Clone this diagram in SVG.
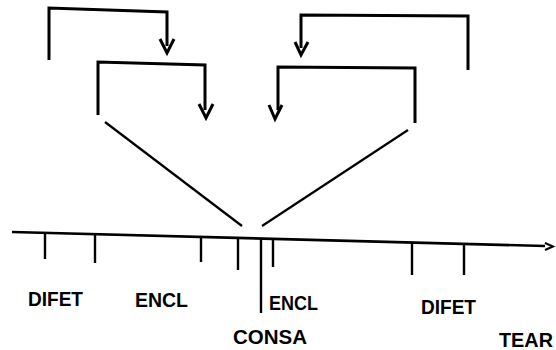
<svg xmlns="http://www.w3.org/2000/svg" width="556" height="350" viewBox="0 0 556 350">
<style>
.br{fill:none;stroke:#000;stroke-width:3;stroke-linecap:butt;stroke-linejoin:miter}
.ah{fill:none;stroke:#000;stroke-width:3;stroke-linejoin:miter}
.dg{fill:none;stroke:#000;stroke-width:2.2}
.ax{fill:none;stroke:#000;stroke-width:2.6}
.tk{fill:none;stroke:#000;stroke-width:2.4}
.lb{font-family:"Liberation Sans",Arial,sans-serif;font-weight:bold;font-size:20px;fill:#000}
</style>
<rect width="556" height="350" fill="#fff"/>
<g id="connectors">
  <g id="bracket-top-left">
    <path class="br" d="M49,60 L49,8 L167,12 L167,46"/>
    <path class="ah" d="M160,39 L167,53 L174,39"/>
  </g>
  <g id="bracket-mid-left">
    <path class="br" d="M98,115 L98,62 L205,65 L205,110"/>
    <path class="ah" d="M199,104 L206,118 L213,104"/>
  </g>
  <g id="bracket-top-right">
    <path class="br" d="M468,70 L468,16 L301,15 L301,48"/>
    <path class="ah" d="M295,42 L301,55 L308,42"/>
  </g>
  <g id="bracket-mid-right">
    <path class="br" d="M415,123 L415,68 L278,67 L278,110"/>
    <path class="ah" d="M269,105 L275,119 L282,105"/>
  </g>
  <path id="diag-left" class="dg" d="M105,122 L242,226"/>
  <path id="diag-right" class="dg" d="M408,130 L262,226"/>
</g>
<g id="axis">
  <path class="ax" d="M12,232 L545,246"/>
  <path class="ah" style="stroke-width:2" d="M545,243 L553,246.5 L545,250"/>
</g>
<g id="ticks">
  <path class="tk" d="M45,233 L45,259"/>
  <path class="tk" d="M95,234.5 L95,263"/>
  <path class="tk" d="M201,237 L201,262"/>
  <path class="tk" d="M238,238 L238,270"/>
  <path class="tk" d="M261,238.5 L261,313"/>
  <path class="tk" d="M273,239 L273,267"/>
  <path class="tk" d="M412,242.5 L412,275"/>
  <path class="tk" d="M464,244 L464,275"/>
</g>
<g id="labels">
  <text id="t-difet1" class="lb" x="28" y="306" textLength="55" lengthAdjust="spacingAndGlyphs">DIFET</text>
  <text id="t-encl1" class="lb" x="135" y="307" textLength="53" lengthAdjust="spacingAndGlyphs">ENCL</text>
  <text id="t-encl2" class="lb" x="269" y="310" textLength="49" lengthAdjust="spacingAndGlyphs">ENCL</text>
  <text id="t-consa" class="lb" x="233" y="344" textLength="74" lengthAdjust="spacingAndGlyphs">CONSA</text>
  <text id="t-difet2" class="lb" x="421" y="314" textLength="55" lengthAdjust="spacingAndGlyphs">DIFET</text>
  <text id="t-tear" class="lb" x="499" y="347" textLength="54" lengthAdjust="spacingAndGlyphs">TEAR</text>
</g>
</svg>
